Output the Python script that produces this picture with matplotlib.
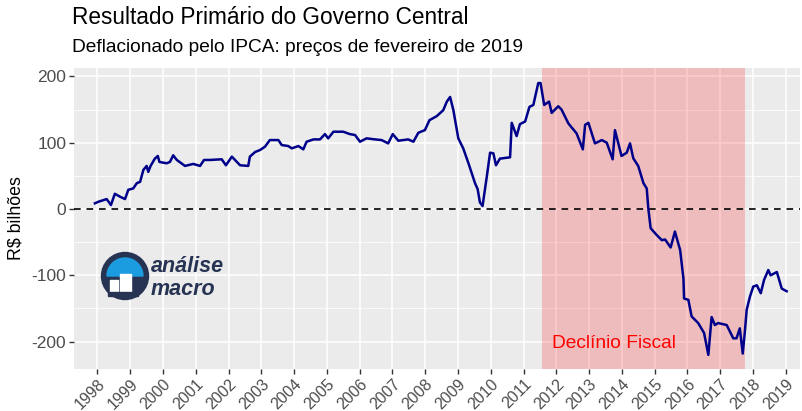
import matplotlib
matplotlib.use("Agg")
import matplotlib.pyplot as plt
from matplotlib.patches import Circle, Wedge, Rectangle

plt.rcParams['font.family'] = ['Liberation Sans', 'DejaVu Sans']
plt.rcParams['axes.unicode_minus'] = False

# 12-month primary result, R$ billions, x in decimal years
anos = [1997.92, 1998.03, 1998.28, 1998.41, 1998.53, 1998.69, 1998.84, 1998.94,
        1999.09, 1999.2, 1999.3, 1999.4, 1999.5, 1999.55, 1999.62, 1999.75,
        1999.84, 1999.89, 2000.11, 2000.21, 2000.31, 2000.42, 2000.67, 2000.92,
        2001.13, 2001.25, 2001.43, 2001.79, 2001.92, 2002.1, 2002.35, 2002.6,
        2002.65, 2002.81, 2002.96, 2003.11, 2003.26, 2003.52, 2003.62, 2003.82,
        2003.93, 2004.13, 2004.28, 2004.38, 2004.59, 2004.79, 2004.94, 2005.04,
        2005.2, 2005.5, 2005.7, 2005.86, 2006.01, 2006.21, 2006.47, 2006.67,
        2006.87, 2007.01, 2007.18, 2007.48, 2007.64, 2007.79, 2007.99, 2008.13,
        2008.35, 2008.55, 2008.66, 2008.76, 2008.86, 2009.01, 2009.16, 2009.32,
        2009.52, 2009.6, 2009.67, 2009.75, 2009.88, 2009.98, 2010.08, 2010.16,
        2010.28, 2010.59, 2010.64, 2010.79, 2010.89, 2011.05, 2011.18, 2011.3,
        2011.45, 2011.52, 2011.63, 2011.78, 2011.86, 2012.06, 2012.16, 2012.37,
        2012.62, 2012.81, 2012.88, 2012.98, 2013.18, 2013.39, 2013.54, 2013.72,
        2013.79, 2013.99, 2014.15, 2014.25, 2014.35, 2014.5, 2014.66, 2014.76,
        2014.81, 2014.88, 2015.06, 2015.22, 2015.32, 2015.49, 2015.62, 2015.78,
        2015.88, 2015.9, 2016.03, 2016.13, 2016.33, 2016.51, 2016.64, 2016.74,
        2016.84, 2016.94, 2017.2, 2017.4, 2017.5, 2017.6, 2017.69, 2017.76,
        2017.81, 2017.91, 2018.01, 2018.12, 2018.24, 2018.34, 2018.47, 2018.54,
        2018.73, 2018.88, 2019.03]
resultado = [8.6, 11, 15, 6, 23, 18.5, 15, 29,
             31, 39, 41, 59, 65, 56, 65, 76,
             80, 71, 69, 71, 81, 74, 65, 68,
             65, 74, 74, 75, 66, 79, 66, 65,
             79, 86, 89, 94, 104, 104, 96.5, 95,
             91.5, 95, 90, 101.5, 105, 105, 113, 106.6,
             116.6, 116.6, 113, 111.6, 101.5, 106.6, 105, 104,
             99, 113, 103, 105, 101.5, 115, 119, 134,
             140, 149, 162, 169, 149, 106.6, 91.5, 69,
             39, 30, 10, 4.5, 49, 85, 84, 66,
             76, 78, 130, 110, 128, 132, 154, 157,
             190, 190, 157, 162, 145, 155, 150, 129,
             114, 90, 127, 130, 99, 104, 100, 75,
             119, 80, 85, 99, 76.5, 65, 39, 31,
             0, -29, -39, -47, -46, -58, -34, -62,
             -105, -135, -137, -162, -172, -187, -220, -163,
             -175, -172, -175, -195, -195, -180, -218, -182,
             -152, -132, -117, -115, -127, -107, -92, -100,
             -95, -120, -124]

anos_ticks = list(range(1998, 2020))
y_ticks = [-200, -100, 0, 100, 200]
declinio = (2011.55, 2017.77)

fig = plt.figure(figsize=(8.03, 4.11), dpi=100)
ax = fig.add_axes([74 / 803, 1 - 369 / 411, 726 / 803, 301 / 411])
ax.set_facecolor('#EBEBEB')
for s in ax.spines.values():
    s.set_visible(False)

ax.set_xlim(1997.283, 2019.437)
ax.set_ylim(-241.3, 212.7)
ax.set_xticks(anos_ticks)
ax.set_xticklabels([str(a) for a in anos_ticks], rotation=45, ha='right',
                   rotation_mode='anchor')
ax.set_yticks(y_ticks)
ax.set_yticks([-150, -50, 50, 150], minor=True)
ax.grid(True, which='major', color='white', lw=1.1, zorder=0)
ax.grid(True, which='minor', axis='y', color='white', lw=0.55, zorder=0)
ax.set_axisbelow(True)
ax.tick_params(axis='both', which='major', colors='#333333', length=3.5,
               width=1, labelsize=11.5, labelcolor='#4D4D4D', pad=2)
ax.tick_params(axis='y', which='major', labelsize=12.5)
ax.tick_params(axis='both', which='minor', length=0)

ax.axvspan(declinio[0], declinio[1], color='red', alpha=0.2, lw=0, zorder=1)
ax.axhline(0, color='black', lw=1.2, ls=(0, (4, 3.5)), zorder=2)
ax.plot(anos, resultado, color='#00008B', lw=1.8, zorder=3)
ax.text(2013.76, -203, 'Declínio Fiscal', color='red', fontsize=13.8,
        ha='center', va='center', zorder=4)

ax.set_ylabel('R$ bilhões', fontsize=12.8, labelpad=5)
fig.text(72 / 803, 1 - 18 / 411, 'Resultado Primário do Governo Central',
         fontsize=16.3, ha='left', va='center')
fig.text(72 / 803, 1 - 47 / 411, 'Deflacionado pelo IPCA: preços de fevereiro de 2019',
         fontsize=13.8, ha='left', va='center')

# logo "análise macro"
lg = fig.add_axes([100 / 803, 1 - 302 / 411, 130 / 803, 52 / 411])
lg.set_xlim(0, 130)
lg.set_ylim(0, 52)
lg.axis('off')
navy = '#263352'
lg.add_patch(Circle((25, 26), 23.5, color=navy))
lg.add_patch(Wedge((25, 26), 18, 0, 180, color='#1C9CE0'))
lg.add_patch(Rectangle((10, 9), 8, 13, color='white'))
lg.add_patch(Rectangle((20, 9), 11, 19, color='white'))
lg.add_patch(Rectangle((8, 6), 30, 4, color=navy))
lg.text(51, 35, 'análise', fontsize=15.5, fontweight='bold', style='italic',
        color=navy, ha='left', va='center')
lg.text(51, 13, 'macro', fontsize=15.5, fontweight='bold', style='italic',
        color=navy, ha='left', va='center')

fig.savefig('out.png', dpi=100)
